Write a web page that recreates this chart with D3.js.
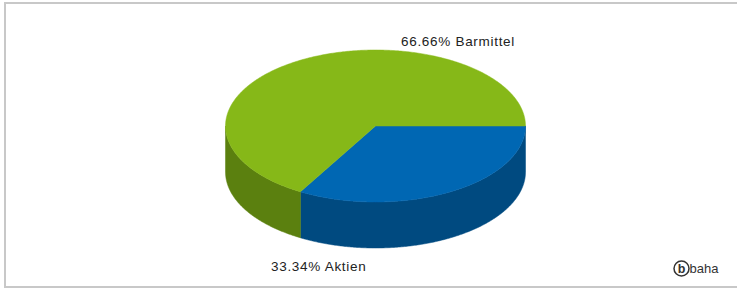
<!DOCTYPE html>
<html><head><meta charset="utf-8">
<script src="https://cdn.jsdelivr.net/npm/d3@7/dist/d3.min.js"></script>
<style>
html,body{margin:0;padding:0;background:#fff;}
svg{display:block;}
</style></head>
<body>
<svg id="chart" width="737" height="291"></svg>
<script>
const categories = ["Aktien", "Barmittel"];
const values = [33.34, 66.66];
const labels = ["33.34% Aktien", "66.66% Barmittel"];
const topColors = ["#0067b3", "#86b818"];
const sideColors = ["#004a80", "#5b800f"];

const W = 737, H = 291;
const svg = d3.select("#chart");

// frame
svg.append("rect").attr("x", 5).attr("y", 3).attr("width", 740).attr("height", 284)
  .attr("fill", "#fff").attr("stroke", "#c8c8c8").attr("stroke-width", 2);

const cx = 375.5, cy = 126, rx = 150, ry = 76, depth = 46;

const pie = d3.pie().sort(null).value(d => d).startAngle(Math.PI / 2).endAngle(Math.PI / 2 + 2 * Math.PI);
const arcs = pie(values);

const px = a => cx + rx * Math.sin(a);
const py = a => cy - ry * Math.cos(a);
const line = d3.line();

function arcPoints(a0, a1, dy) {
  const n = Math.max(2, Math.ceil(Math.abs(a1 - a0) / 0.01));
  return d3.range(n + 1).map(i => {
    const a = a0 + (a1 - a0) * i / n;
    return [px(a), py(a) + dy];
  });
}

const g = svg.append("g");

// sides (front-facing part: angles between PI/2 and 3PI/2)
arcs.forEach((d, i) => {
  const a0 = Math.max(d.startAngle, Math.PI / 2);
  const a1 = Math.min(d.endAngle, 3 * Math.PI / 2);
  if (a1 > a0) {
    const pts = arcPoints(a0, a1, 0).concat(arcPoints(a1, a0, depth));
    g.append("path").attr("d", line(pts) + "Z").attr("fill", sideColors[i])
      .attr("stroke", sideColors[i]).attr("stroke-width", 0.5);
  }
});

// tops
arcs.forEach((d, i) => {
  const pts = [[cx, cy]].concat(arcPoints(d.startAngle, d.endAngle, 0));
  g.append("path").attr("d", line(pts) + "Z").attr("fill", topColors[i])
    .attr("stroke", topColors[i]).attr("stroke-width", 0.5);
});

// labels
const labelPos = [[271, 271], [401, 46]];
labels.forEach((t, i) => {
  svg.append("text").attr("x", labelPos[i][0]).attr("y", labelPos[i][1])
    .attr("font-family", "Liberation Sans, Arial, sans-serif").attr("font-size", 13.5)
    .attr("letter-spacing", 0.7).attr("fill", "#222").text(t);
});

// logo
const logo = svg.append("g");
logo.append("circle").attr("cx", 681.5).attr("cy", 268.5).attr("r", 7.5)
  .attr("fill", "#fff").attr("stroke", "#333").attr("stroke-width", 1.5);
logo.append("text").attr("x", 681.5).attr("y", 273).attr("text-anchor", "middle")
  .attr("font-family", "Liberation Sans, Arial, sans-serif").attr("font-size", 12.5)
  .attr("font-weight", "bold").attr("fill", "#333").text("b");
logo.append("text").attr("x", 689.5).attr("y", 273)
  .attr("font-family", "Liberation Sans, Arial, sans-serif").attr("font-size", 13)
  .attr("fill", "#333").text("baha");
</script>
</body></html>
